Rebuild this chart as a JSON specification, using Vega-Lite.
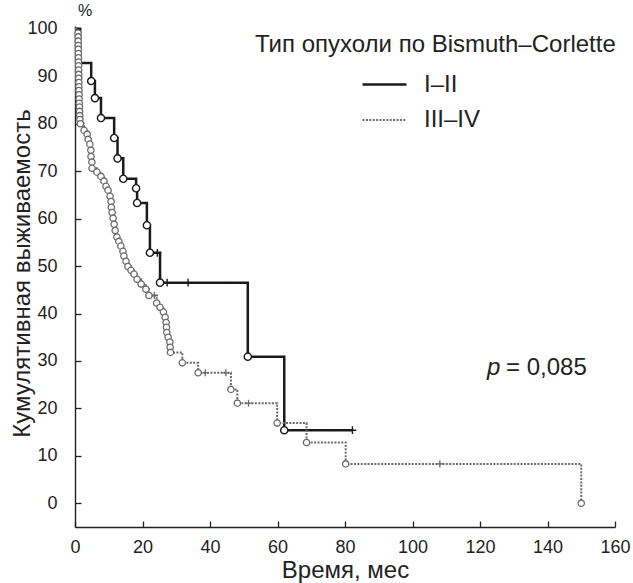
{
  "$schema": "https://vega.github.io/schema/vega-lite/v6.json",
  "width": 540,
  "height": 501,
  "autosize": {"type": "none"},
  "padding": {"left": 75, "top": 26, "right": 18, "bottom": 56},
  "config": {
    "font": "Liberation Sans",
    "view": {"stroke": null},
    "axis": {
      "grid": false,
      "domainColor": "#222",
      "domainWidth": 1.4,
      "tickColor": "#222",
      "tickWidth": 1.3,
      "tickSize": -6,
      "labelColor": "#222",
      "labelFontSize": 18,
      "labelFont": "Liberation Sans",
      "titleFont": "Liberation Sans",
      "titleFontSize": 24,
      "titleFontWeight": "normal",
      "titleColor": "#222",
      "labelFlush": false,
      "labelOverlap": false
    },
    "legend": {
      "orient": "none", "legendX": 180, "legendY": 7,
      "titleFontSize": 24, "titleFontWeight": "normal", "titleColor": "#222", "titleFont": "Liberation Sans",
      "titlePadding": 4, "titleLimit": 600,
      "labelFontSize": 24, "labelColor": "#222", "labelFont": "Liberation Sans", "labelLimit": 300,
      "symbolType": "stroke", "symbolSize": 1936, "symbolStrokeWidth": 2.5,
      "symbolOffset": 106, "labelOffset": 16, "rowPadding": -9, "padding": 0
    }
  },
  "title": {
    "text": "%",
    "anchor": "start",
    "frame": "group",
    "fontSize": 16,
    "fontWeight": "normal",
    "color": "#222",
    "font": "Liberation Sans",
    "offset": 1,
    "dx": 3
  },
  "datasets": {
    "km": [
      {"g": "I–II", "t": 0, "s": 100, "k": "start"},
      {"g": "I–II", "t": 1.5, "s": 92.8, "k": "step"},
      {"g": "I–II", "t": 4.8, "s": 89.0, "k": "event"},
      {"g": "I–II", "t": 5.9, "s": 85.4, "k": "event"},
      {"g": "I–II", "t": 7.7, "s": 81.2, "k": "event"},
      {"g": "I–II", "t": 11.6, "s": 77.0, "k": "event"},
      {"g": "I–II", "t": 12.6, "s": 72.7, "k": "event"},
      {"g": "I–II", "t": 14.3, "s": 68.4, "k": "event"},
      {"g": "I–II", "t": 18.1, "s": 66.4, "k": "event"},
      {"g": "I–II", "t": 18.4, "s": 63.3, "k": "event"},
      {"g": "I–II", "t": 21.3, "s": 58.6, "k": "event"},
      {"g": "I–II", "t": 22.2, "s": 52.8, "k": "event"},
      {"g": "I–II", "t": 24.4, "s": 52.8, "k": "censor"},
      {"g": "I–II", "t": 25.2, "s": 46.5, "k": "event"},
      {"g": "I–II", "t": 27.3, "s": 46.5, "k": "censor"},
      {"g": "I–II", "t": 33.5, "s": 46.5, "k": "censor"},
      {"g": "I–II", "t": 51.2, "s": 30.9, "k": "event"},
      {"g": "I–II", "t": 62.0, "s": 15.4, "k": "event"},
      {"g": "I–II", "t": 82.2, "s": 15.4, "k": "censor"},
      {"g": "III–IV", "t": 0, "s": 100, "k": "start"},
      {"g": "III–IV", "t": 0.9, "s": 99.1, "k": "event"},
      {"g": "III–IV", "t": 0.92, "s": 98.3, "k": "event"},
      {"g": "III–IV", "t": 0.94, "s": 97.4, "k": "event"},
      {"g": "III–IV", "t": 0.96, "s": 96.5, "k": "event"},
      {"g": "III–IV", "t": 0.98, "s": 95.7, "k": "event"},
      {"g": "III–IV", "t": 1.0, "s": 94.8, "k": "event"},
      {"g": "III–IV", "t": 1.02, "s": 93.9, "k": "event"},
      {"g": "III–IV", "t": 1.04, "s": 93.0, "k": "event"},
      {"g": "III–IV", "t": 1.06, "s": 92.2, "k": "event"},
      {"g": "III–IV", "t": 1.08, "s": 91.3, "k": "event"},
      {"g": "III–IV", "t": 1.1, "s": 90.4, "k": "event"},
      {"g": "III–IV", "t": 1.12, "s": 89.6, "k": "event"},
      {"g": "III–IV", "t": 1.14, "s": 88.7, "k": "event"},
      {"g": "III–IV", "t": 1.16, "s": 87.8, "k": "event"},
      {"g": "III–IV", "t": 1.18, "s": 87.0, "k": "event"},
      {"g": "III–IV", "t": 1.2, "s": 86.1, "k": "event"},
      {"g": "III–IV", "t": 1.22, "s": 85.2, "k": "event"},
      {"g": "III–IV", "t": 1.26, "s": 84.3, "k": "event"},
      {"g": "III–IV", "t": 1.3, "s": 83.5, "k": "event"},
      {"g": "III–IV", "t": 1.35, "s": 82.6, "k": "event"},
      {"g": "III–IV", "t": 1.4, "s": 81.7, "k": "event"},
      {"g": "III–IV", "t": 1.45, "s": 80.9, "k": "event"},
      {"g": "III–IV", "t": 1.6, "s": 80.0, "k": "event"},
      {"g": "III–IV", "t": 2.7, "s": 78.6, "k": "event"},
      {"g": "III–IV", "t": 3.6, "s": 77.8, "k": "event"},
      {"g": "III–IV", "t": 3.9, "s": 76.7, "k": "event"},
      {"g": "III–IV", "t": 4.4, "s": 75.7, "k": "event"},
      {"g": "III–IV", "t": 4.7, "s": 74.4, "k": "event"},
      {"g": "III–IV", "t": 4.75, "s": 73.1, "k": "event"},
      {"g": "III–IV", "t": 5.0, "s": 71.9, "k": "event"},
      {"g": "III–IV", "t": 5.05, "s": 70.6, "k": "event"},
      {"g": "III–IV", "t": 6.5, "s": 69.8, "k": "event"},
      {"g": "III–IV", "t": 7.7, "s": 68.9, "k": "event"},
      {"g": "III–IV", "t": 8.6, "s": 67.9, "k": "event"},
      {"g": "III–IV", "t": 9.2, "s": 66.8, "k": "event"},
      {"g": "III–IV", "t": 9.8, "s": 66.0, "k": "event"},
      {"g": "III–IV", "t": 10.4, "s": 64.7, "k": "event"},
      {"g": "III–IV", "t": 10.7, "s": 63.6, "k": "event"},
      {"g": "III–IV", "t": 10.75, "s": 62.4, "k": "event"},
      {"g": "III–IV", "t": 11.0, "s": 61.3, "k": "event"},
      {"g": "III–IV", "t": 11.3, "s": 60.1, "k": "event"},
      {"g": "III–IV", "t": 11.6, "s": 58.8, "k": "event"},
      {"g": "III–IV", "t": 11.9, "s": 57.5, "k": "event"},
      {"g": "III–IV", "t": 12.4, "s": 56.1, "k": "event"},
      {"g": "III–IV", "t": 13.0, "s": 55.2, "k": "event"},
      {"g": "III–IV", "t": 13.6, "s": 54.2, "k": "event"},
      {"g": "III–IV", "t": 14.2, "s": 53.1, "k": "event"},
      {"g": "III–IV", "t": 14.5, "s": 52.1, "k": "event"},
      {"g": "III–IV", "t": 15.1, "s": 51.0, "k": "event"},
      {"g": "III–IV", "t": 15.7, "s": 49.9, "k": "event"},
      {"g": "III–IV", "t": 16.6, "s": 49.1, "k": "event"},
      {"g": "III–IV", "t": 17.5, "s": 48.3, "k": "event"},
      {"g": "III–IV", "t": 18.4, "s": 47.2, "k": "event"},
      {"g": "III–IV", "t": 19.6, "s": 46.2, "k": "event"},
      {"g": "III–IV", "t": 21.0, "s": 45.1, "k": "event"},
      {"g": "III–IV", "t": 21.9, "s": 43.8, "k": "event"},
      {"g": "III–IV", "t": 23.5, "s": 43.8, "k": "censor"},
      {"g": "III–IV", "t": 24.2, "s": 42.2, "k": "event"},
      {"g": "III–IV", "t": 25.2, "s": 41.3, "k": "event"},
      {"g": "III–IV", "t": 26.2, "s": 40.3, "k": "event"},
      {"g": "III–IV", "t": 26.7, "s": 39.2, "k": "event"},
      {"g": "III–IV", "t": 27.0, "s": 38.1, "k": "event"},
      {"g": "III–IV", "t": 27.1, "s": 37.1, "k": "event"},
      {"g": "III–IV", "t": 27.2, "s": 36.0, "k": "event"},
      {"g": "III–IV", "t": 27.6, "s": 35.0, "k": "event"},
      {"g": "III–IV", "t": 28.1, "s": 34.0, "k": "event"},
      {"g": "III–IV", "t": 28.2, "s": 32.9, "k": "event"},
      {"g": "III–IV", "t": 28.3, "s": 31.8, "k": "event"},
      {"g": "III–IV", "t": 31.8, "s": 29.6, "k": "event"},
      {"g": "III–IV", "t": 36.5, "s": 27.5, "k": "event"},
      {"g": "III–IV", "t": 38.6, "s": 27.5, "k": "censor"},
      {"g": "III–IV", "t": 44.7, "s": 27.5, "k": "censor"},
      {"g": "III–IV", "t": 46.2, "s": 24.0, "k": "event"},
      {"g": "III–IV", "t": 48.1, "s": 21.1, "k": "event"},
      {"g": "III–IV", "t": 51.4, "s": 21.1, "k": "censor"},
      {"g": "III–IV", "t": 59.9, "s": 16.9, "k": "event"},
      {"g": "III–IV", "t": 68.6, "s": 12.8, "k": "event"},
      {"g": "III–IV", "t": 80.2, "s": 8.3, "k": "event"},
      {"g": "III–IV", "t": 108.1, "s": 8.3, "k": "censor"},
      {"g": "III–IV", "t": 150, "s": 0, "k": "event"}
    ]
  },
  "layer": [
    {
      "data": {"name": "km"},
      "mark": {"type": "line", "interpolate": "step-after"},
      "encoding": {
        "x": {
          "field": "t", "type": "quantitative",
          "scale": {"domain": [0, 160], "nice": false, "zero": false},
          "axis": {"values": [0, 20, 40, 60, 80, 100, 120, 140, 160], "labelPadding": 17, "title": "Время, мес", "titleY": 43, "titleBaseline": "middle"}
        },
        "y": {
          "field": "s", "type": "quantitative",
          "scale": {"domain": [-5, 100.6], "nice": false, "zero": false},
          "axis": {"values": [0, 10, 20, 30, 40, 50, 60, 70, 80, 90, 100], "labelPadding": 24, "title": "Кумулятивная выживаемость", "titleX": -53, "titleY": 247, "titleBaseline": "middle"}
        },
        "color": {
          "field": "g", "type": "nominal",
          "scale": {"domain": ["I–II", "III–IV"], "range": ["#1a1a1a", "#6a6a6a"]},
          "legend": {"title": "Тип опухоли по Bismuth–Corlette"}
        },
        "strokeDash": {
          "field": "g", "type": "nominal",
          "scale": {"domain": ["I–II", "III–IV"], "range": [[1, 0], [2, 1.4]]},
          "legend": {"title": "Тип опухоли по Bismuth–Corlette"}
        },
        "strokeWidth": {
          "field": "g", "type": "nominal",
          "scale": {"domain": ["I–II", "III–IV"], "range": [2.5, 2]},
          "legend": null
        }
      }
    },
    {
      "data": {"name": "km"},
      "transform": [{"filter": "datum.k == 'censor' && datum.g == 'III–IV'"}],
      "mark": {"type": "point", "shape": "M0,-1L0,1M-1,0L1,0", "filled": false, "strokeWidth": 1.3, "opacity": 1, "size": 50, "stroke": "#6a6a6a"},
      "encoding": {
        "x": {"field": "t", "type": "quantitative"},
        "y": {"field": "s", "type": "quantitative"}
      }
    },
    {
      "data": {"name": "km"},
      "transform": [{"filter": "datum.k == 'censor' && datum.g == 'I–II'"}],
      "mark": {"type": "point", "shape": "M0,-1L0,1M-1,0L1,0", "filled": false, "strokeWidth": 1.4, "opacity": 1, "size": 60, "stroke": "#1a1a1a"},
      "encoding": {
        "x": {"field": "t", "type": "quantitative"},
        "y": {"field": "s", "type": "quantitative"}
      }
    },
    {
      "data": {"name": "km"},
      "transform": [{"filter": "datum.k == 'event' && datum.g == 'III–IV'"}],
      "mark": {"type": "point", "shape": "circle", "filled": true, "fill": "white", "fillOpacity": 1, "opacity": 1, "strokeWidth": 1.3, "stroke": "#6a6a6a", "size": 40},
      "encoding": {
        "x": {"field": "t", "type": "quantitative"},
        "y": {"field": "s", "type": "quantitative"}
      }
    },
    {
      "data": {"name": "km"},
      "transform": [{"filter": "datum.k == 'event' && datum.g == 'I–II'"}],
      "mark": {"type": "point", "shape": "circle", "filled": true, "fill": "white", "fillOpacity": 1, "opacity": 1, "strokeWidth": 1.4, "stroke": "#1a1a1a", "size": 52},
      "encoding": {
        "x": {"field": "t", "type": "quantitative"},
        "y": {"field": "s", "type": "quantitative"}
      }
    },
    {
      "data": {"values": [{"label": "p", "t": 122.1, "s": 28.5}]},
      "mark": {"type": "text", "align": "left", "baseline": "middle", "fontSize": 24, "fontStyle": "italic", "font": "Liberation Sans", "color": "#222"},
      "encoding": {
        "x": {"field": "t", "type": "quantitative"},
        "y": {"field": "s", "type": "quantitative"},
        "text": {"field": "label"}
      }
    },
    {
      "data": {"values": [{"label": "= 0,085", "t": 127.7, "s": 28.5}]},
      "mark": {"type": "text", "align": "left", "baseline": "middle", "fontSize": 24, "font": "Liberation Sans", "color": "#222"},
      "encoding": {
        "x": {"field": "t", "type": "quantitative"},
        "y": {"field": "s", "type": "quantitative"},
        "text": {"field": "label"}
      }
    }
  ]
}
